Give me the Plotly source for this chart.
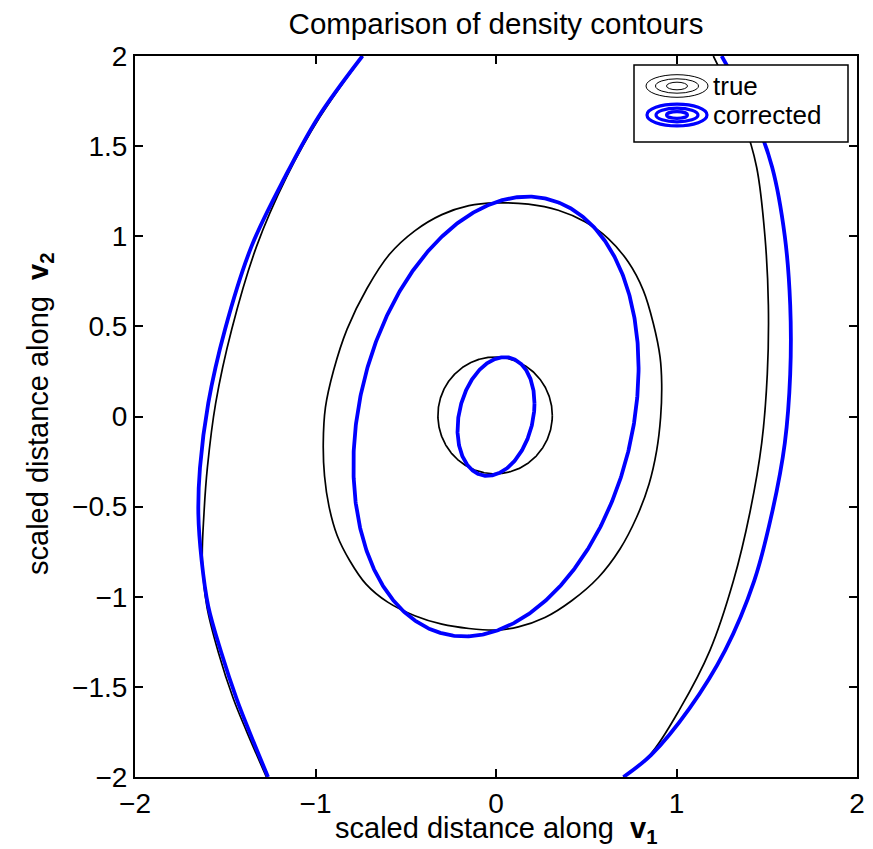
import numpy as np
import plotly.graph_objects as go

# ---------------- data ----------------
title_text = "Comparison of density contours"
GAP = "&nbsp; "
x_label = "scaled distance along" + GAP + "<b>v<sub>1</sub></b>"
y_label = "scaled distance along" + GAP + "<b>v<sub>2</sub></b>"
x_ticks = [-2, -1, 0, 1, 2]
y_ticks = [-2, -1.5, -1, -0.5, 0, 0.5, 1, 1.5, 2]
legend_names = ["true", "corrected"]

# corrected density: inner and middle contours are ellipses
# covariance-like entries (sxx, sxy, syy) of each contour, centred at the origin
corr_sxx = [0.0455, 0.624]
corr_sxy = [0.0156, 0.2135]
corr_syy = [0.1085, 1.488]

# corrected density: outer contour, clipped by the axes into two branches
corr_outer_left_x = [-0.740, -0.984, -1.169, -1.354, -1.501, -1.594, -1.640, -1.649, -1.631,
                     -1.594, -1.522, -1.437, -1.368, -1.263]
corr_outer_left_y = [2.0, 1.662, 1.329, 0.945, 0.484, 0.074, -0.284, -0.541, -0.797,
                     -1.053, -1.309, -1.566, -1.744, -2.0]
corr_outer_right_x = [1.25, 1.44, 1.53, 1.60, 1.63, 1.63, 1.60, 1.53, 1.43,
                      1.27, 1.07, 0.86, 0.706]
corr_outer_right_y = [2.0, 1.638, 1.383, 1.0, 0.618, 0.235, -0.148, -0.531, -0.913,
                      -1.296, -1.622, -1.877, -2.0]

# true density: inner contour is nearly a circle
true_inner_sxx, true_inner_sxy, true_inner_syy = 0.1005, 0.0, 0.105
true_inner_cx, true_inner_cy = -0.005, 0.006

# true density: middle contour (closed)
true_mid_x = [0.0, -0.15, -0.30, -0.45, -0.59, -0.715, -0.825, -0.900, -0.945, -0.957,
              -0.950, -0.925, -0.880, -0.810, -0.720, -0.600, -0.450, -0.300, -0.150,
              0.0, 0.124, 0.271, 0.419, 0.567, 0.687, 0.779, 0.848, 0.890, 0.912,
              0.918, 0.909, 0.872, 0.816, 0.733, 0.622, 0.493, 0.345, 0.179, 0.0]
true_mid_y = [1.185, 1.170, 1.120, 1.030, 0.900, 0.710, 0.485, 0.255, 0.050, -0.150,
              -0.330, -0.500, -0.660, -0.800, -0.930, -1.030, -1.105, -1.152, -1.176,
              -1.185, -1.167, -1.115, -1.022, -0.893, -0.735, -0.559, -0.374, -0.189, -0.004,
              0.181, 0.330, 0.515, 0.700, 0.857, 0.987, 1.080, 1.144, 1.178, 1.185]

# true density: outer contour, clipped by the axes into two branches
true_outer_left_x = [-0.738, -0.975, -1.160, -1.326, -1.464, -1.553, -1.599, -1.618, -1.627,
                     -1.602, -1.538, -1.455, -1.383, -1.272]
true_outer_left_y = [2.0, 1.662, 1.329, 0.945, 0.484, 0.074, -0.284, -0.541, -0.797,
                     -1.053, -1.309, -1.566, -1.744, -2.0]
true_outer_right_x = [1.204, 1.370, 1.444, 1.490, 1.509, 1.503, 1.472, 1.407, 1.315,
                      1.186, 1.019, 0.853, 0.705]
true_outer_right_y = [2.0, 1.638, 1.383, 1.0, 0.618, 0.235, -0.148, -0.531, -0.913,
                      -1.296, -1.622, -1.877, -2.0]

# ---------------- styling ----------------
FONT = "Liberation Sans, Arial, Helvetica, sans-serif"
BLACK = "#000000"
BLUE = "#0000FF"
W, H = 873, 849
ML, MR, MT, MB = 135, 16, 56, 72
BLACK_W = 1.7
BLUE_W = 3.8


def ellipse(sxx, sxy, syy, cx=0.0, cy=0.0, n=721):
    L = np.linalg.cholesky(np.array([[sxx, sxy], [sxy, syy]], dtype=float))
    t = np.linspace(0, 2 * np.pi, n)
    p = L @ np.vstack([np.cos(t), np.sin(t)])
    return p[0] + cx, p[1] + cy


def line_trace(x, y, color, width, spline=False):
    line = dict(color=color, width=width)
    if spline:
        line.update(shape="spline", smoothing=1.0)
    return go.Scatter(x=x, y=y, mode="lines", line=line, showlegend=False,
                      hoverinfo="skip", connectgaps=False)


fig = go.Figure()

# true contours (thin black)
ix, iy = ellipse(true_inner_sxx, true_inner_sxy, true_inner_syy, true_inner_cx, true_inner_cy)
fig.add_trace(line_trace(ix, iy, BLACK, BLACK_W))
fig.add_trace(line_trace(true_mid_x, true_mid_y, BLACK, BLACK_W, spline=True))
fig.add_trace(line_trace(true_outer_left_x, true_outer_left_y, BLACK, BLACK_W, spline=True))
fig.add_trace(line_trace(true_outer_right_x, true_outer_right_y, BLACK, BLACK_W, spline=True))

# corrected contours (thick blue)
for sxx, sxy, syy in zip(corr_sxx, corr_sxy, corr_syy):
    ex, ey = ellipse(sxx, sxy, syy)
    fig.add_trace(line_trace(ex, ey, BLUE, BLUE_W))
fig.add_trace(line_trace(corr_outer_left_x, corr_outer_left_y, BLUE, BLUE_W, spline=True))
fig.add_trace(line_trace(corr_outer_right_x, corr_outer_right_y, BLUE, BLUE_W, spline=True))


# ---------------- pixel -> paper helpers ----------------
def px2x(px):
    return (px - ML) / (W - ML - MR)


def px2y(py):
    return (H - MB - py) / (H - MT - MB)


# ---------------- MATLAB-style legend box ----------------
ROW1, ROW2 = 86, 115
shapes = [dict(type="rect", xref="paper", yref="paper", layer="above",
               x0=px2x(634), x1=px2x(848), y0=px2y(142), y1=px2y(65),
               fillcolor="white", line=dict(color=BLACK, width=1.5))]
icon_cx = 677
for cy_px, color, lw, radii in [(ROW1, BLACK, 1.0, [(31, 11.3), (21.5, 7.2), (10.5, 3.8)]),
                                 (ROW2, BLUE, 3.2, [(30, 10.8), (21, 6.8), (10.5, 3.3)])]:
    for rx, ry in radii:
        shapes.append(dict(type="circle", xref="paper", yref="paper", layer="above",
                           x0=px2x(icon_cx - rx), x1=px2x(icon_cx + rx),
                           y0=px2y(cy_px + ry), y1=px2y(cy_px - ry),
                           line=dict(color=color, width=lw)))

annotations = [
    dict(text=legend_names[0], xref="paper", yref="paper", x=px2x(711), y=px2y(ROW1),
         xanchor="left", yanchor="middle", showarrow=False,
         font=dict(family=FONT, size=26, color=BLACK)),
    dict(text=legend_names[1], xref="paper", yref="paper", x=px2x(711), y=px2y(ROW2),
         xanchor="left", yanchor="middle", showarrow=False,
         font=dict(family=FONT, size=26, color=BLACK)),
    # axis titles
    dict(text=x_label, xref="paper", yref="paper", x=px2x(496), y=px2y(830),
         xanchor="center", yanchor="middle", showarrow=False,
         font=dict(family=FONT, size=29, color=BLACK)),
    dict(text=y_label, xref="paper", yref="paper", x=px2x(40), y=px2y(414),
         xanchor="center", yanchor="middle", showarrow=False, textangle=-90,
         font=dict(family=FONT, size=29, color=BLACK)),
]

axis_common = dict(range=[-2, 2], showgrid=False, zeroline=False, showline=True,
                   linecolor=BLACK, linewidth=2, mirror="ticks", ticks="inside",
                   ticklen=8, tickwidth=1.5, tickcolor=BLACK,
                   tickfont=dict(family=FONT, size=28, color=BLACK))

fig.update_layout(
    width=W, height=H,
    margin=dict(l=ML, r=MR, t=MT, b=MB, autoexpand=False),
    paper_bgcolor="white", plot_bgcolor="white",
    font=dict(family=FONT, size=28, color=BLACK),
    title=dict(text=title_text, x=(ML + (W - ML - MR) / 2) / W, xanchor="center",
               y=1 - 24 / H, yanchor="middle", yref="container",
               font=dict(family=FONT, size=29.5, color=BLACK)),
    xaxis=dict(**axis_common, tickvals=x_ticks),
    yaxis=dict(**axis_common, tickvals=y_ticks),
    shapes=shapes, annotations=annotations, showlegend=False,
)

fig.write_html("out.html")
